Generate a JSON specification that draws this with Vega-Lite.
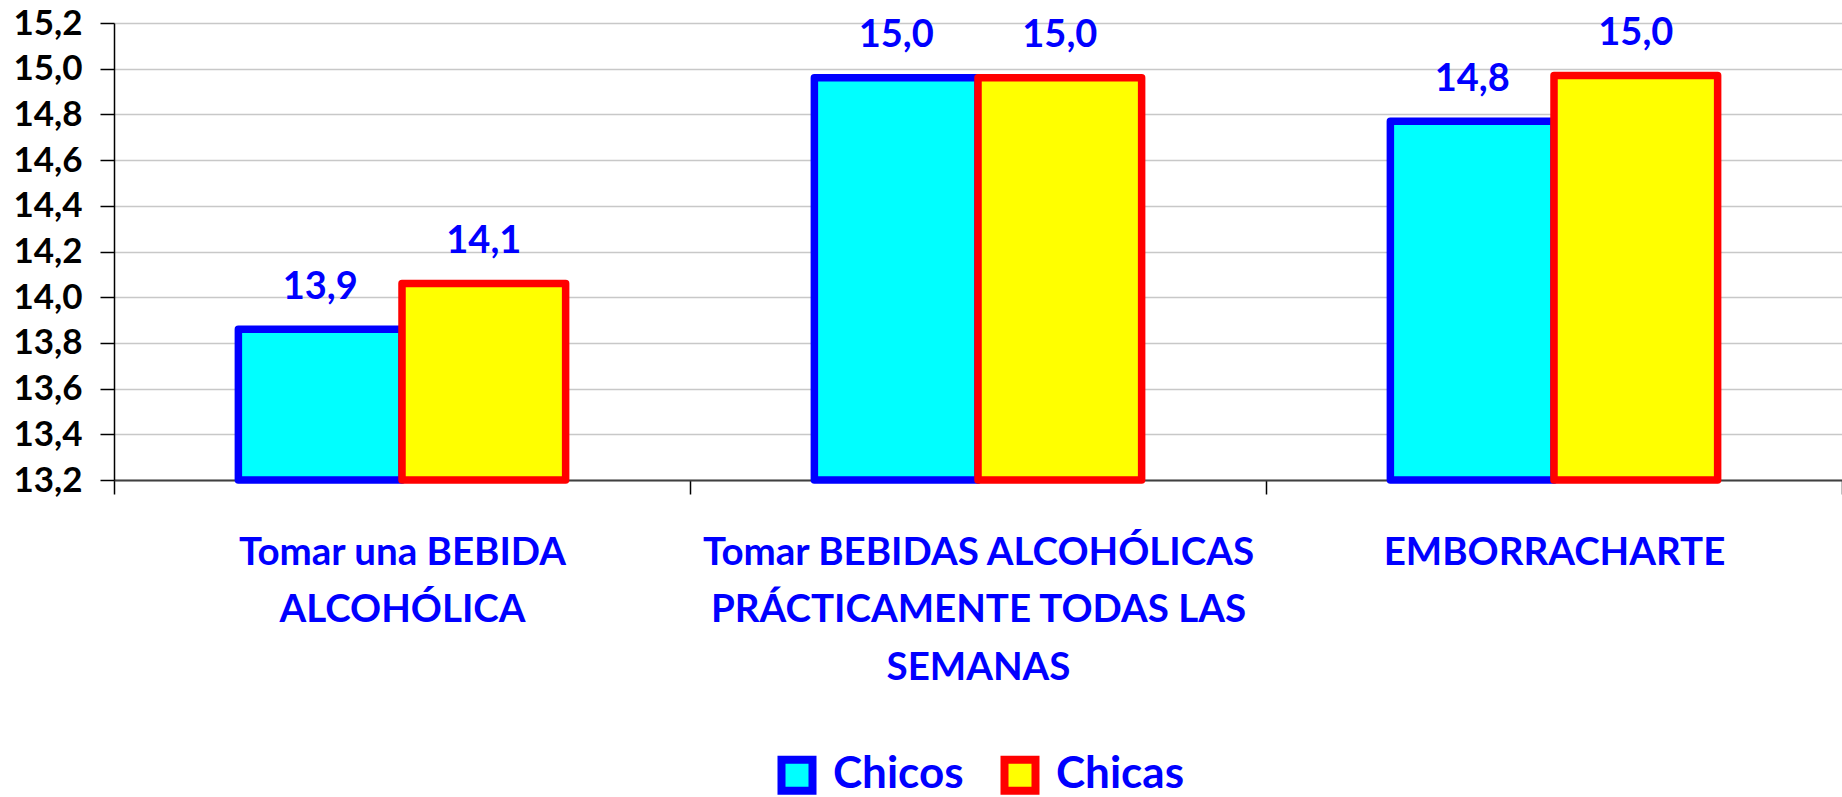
{
  "$schema": "https://vega.github.io/schema/vega-lite/v6.json",
  "width": 1728,
  "height": 457,
  "autosize": {"type": "none"},
  "padding": {"left": 114, "top": 23, "right": 0, "bottom": 317},
  "config": {
    "locale": {"number": {"decimal": ",", "thousands": ".", "grouping": [3], "currency": ["", " €"]}},
    "view": {"stroke": null},
    "font": "Lato"
  },
  "data": {
    "values": [
      {"cat": "Tomar una BEBIDA ALCOHÓLICA", "sexo": "Chicos", "edad": 13.86},
      {"cat": "Tomar una BEBIDA ALCOHÓLICA", "sexo": "Chicas", "edad": 14.06},
      {"cat": "Tomar BEBIDAS ALCOHÓLICAS PRÁCTICAMENTE TODAS LAS SEMANAS", "sexo": "Chicos", "edad": 14.96},
      {"cat": "Tomar BEBIDAS ALCOHÓLICAS PRÁCTICAMENTE TODAS LAS SEMANAS", "sexo": "Chicas", "edad": 14.96},
      {"cat": "EMBORRACHARTE", "sexo": "Chicos", "edad": 14.77},
      {"cat": "EMBORRACHARTE", "sexo": "Chicas", "edad": 14.97}
    ]
  },
  "encoding": {
    "x": {
      "field": "cat",
      "type": "nominal",
      "sort": null,
      "scale": {"paddingInner": 0, "paddingOuter": 0},
      "axis": {
        "title": null,
        "labelAngle": 0,
        "tickBand": "extent",
        "ticks": true,
        "tickSize": 14,
        "tickColor": "#000000",
        "tickWidth": 1.5,
        "domainColor": "#404040",
        "domainWidth": 2,
        "labelColor": "#0000FF",
        "labelFont": "Lato",
        "labelFontSize": 38.5,
        "labelFontWeight": "bold",
        "labelPadding": 40,
        "labelBaseline": "top",
        "labelLineHeight": 57.5,
        "labelLimit": 0,
        "labelExpr": "datum.label == 'EMBORRACHARTE' ? 'EMBORRACHARTE' : datum.label == 'Tomar una BEBIDA ALCOHÓLICA' ? ['Tomar una BEBIDA', 'ALCOHÓLICA'] : datum.label == 'Tomar BEBIDAS ALCOHÓLICAS PRÁCTICAMENTE TODAS LAS SEMANAS' ? ['Tomar BEBIDAS ALCOHÓLICAS', 'PRÁCTICAMENTE TODAS LAS', 'SEMANAS'] : ''"
      }
    },
    "xOffset": {
      "field": "sexo",
      "sort": ["Chicos", "Chicas"],
      "scale": {"paddingInner": 0, "paddingOuter": 0.76}
    },
    "y": {
      "field": "edad",
      "type": "quantitative",
      "scale": {"domain": [13.2, 15.2], "zero": false, "nice": false},
      "axis": {
        "title": null,
        "values": [13.2, 13.4, 13.6, 13.8, 14.0, 14.2, 14.4, 14.6, 14.8, 15.0, 15.2],
        "format": ".1f",
        "labelFont": "Lato",
        "labelFontSize": 35,
        "labelFontWeight": "bold",
        "labelColor": "#000000",
        "labelPadding": 18,
        "tickSize": 14,
        "tickColor": "#000000",
        "tickWidth": 1.5,
        "domainColor": "#000000",
        "domainWidth": 1.5,
        "grid": true,
        "gridColor": "#c8c8c8",
        "gridWidth": 1.5
      }
    }
  },
  "layer": [
    {
      "mark": {"type": "bar", "strokeWidth": 7.5, "strokeJoin": "round"},
      "encoding": {
        "y2": {"datum": 13.2},
        "fill": {
          "field": "sexo",
          "type": "nominal",
          "scale": {"domain": ["Chicos", "Chicas"], "range": ["#00FFFF", "#FFFF00"]},
          "legend": {
            "orient": "none",
            "legendX": 661,
            "legendY": 730,
            "direction": "horizontal",
            "title": null,
            "symbolType": "square",
            "symbolSize": 961,
            "symbolStrokeWidth": 8,
            "labelFont": "Lato",
            "labelFontSize": 44,
            "labelFontWeight": "bold",
            "labelColor": "#0000FF",
            "labelOffset": 14,
            "columnPadding": 24,
            "padding": 0
          }
        },
        "stroke": {
          "field": "sexo",
          "type": "nominal",
          "scale": {"domain": ["Chicos", "Chicas"], "range": ["#0000FF", "#FF0000"]},
          "legend": {
            "orient": "none",
            "legendX": 661,
            "legendY": 730,
            "direction": "horizontal",
            "title": null,
            "symbolType": "square",
            "symbolSize": 961,
            "symbolStrokeWidth": 8,
            "labelFont": "Lato",
            "labelFontSize": 44,
            "labelFontWeight": "bold",
            "labelColor": "#0000FF",
            "labelOffset": 14,
            "columnPadding": 24,
            "padding": 0
          }
        }
      }
    },
    {
      "mark": {"type": "text", "font": "Lato", "fontSize": 38, "fontWeight": "bold", "color": "#0000FF", "baseline": "alphabetic", "dy": -30.5},
      "encoding": {
        "text": {"field": "edad", "type": "quantitative", "format": ".1f"}
      }
    }
  ]
}
